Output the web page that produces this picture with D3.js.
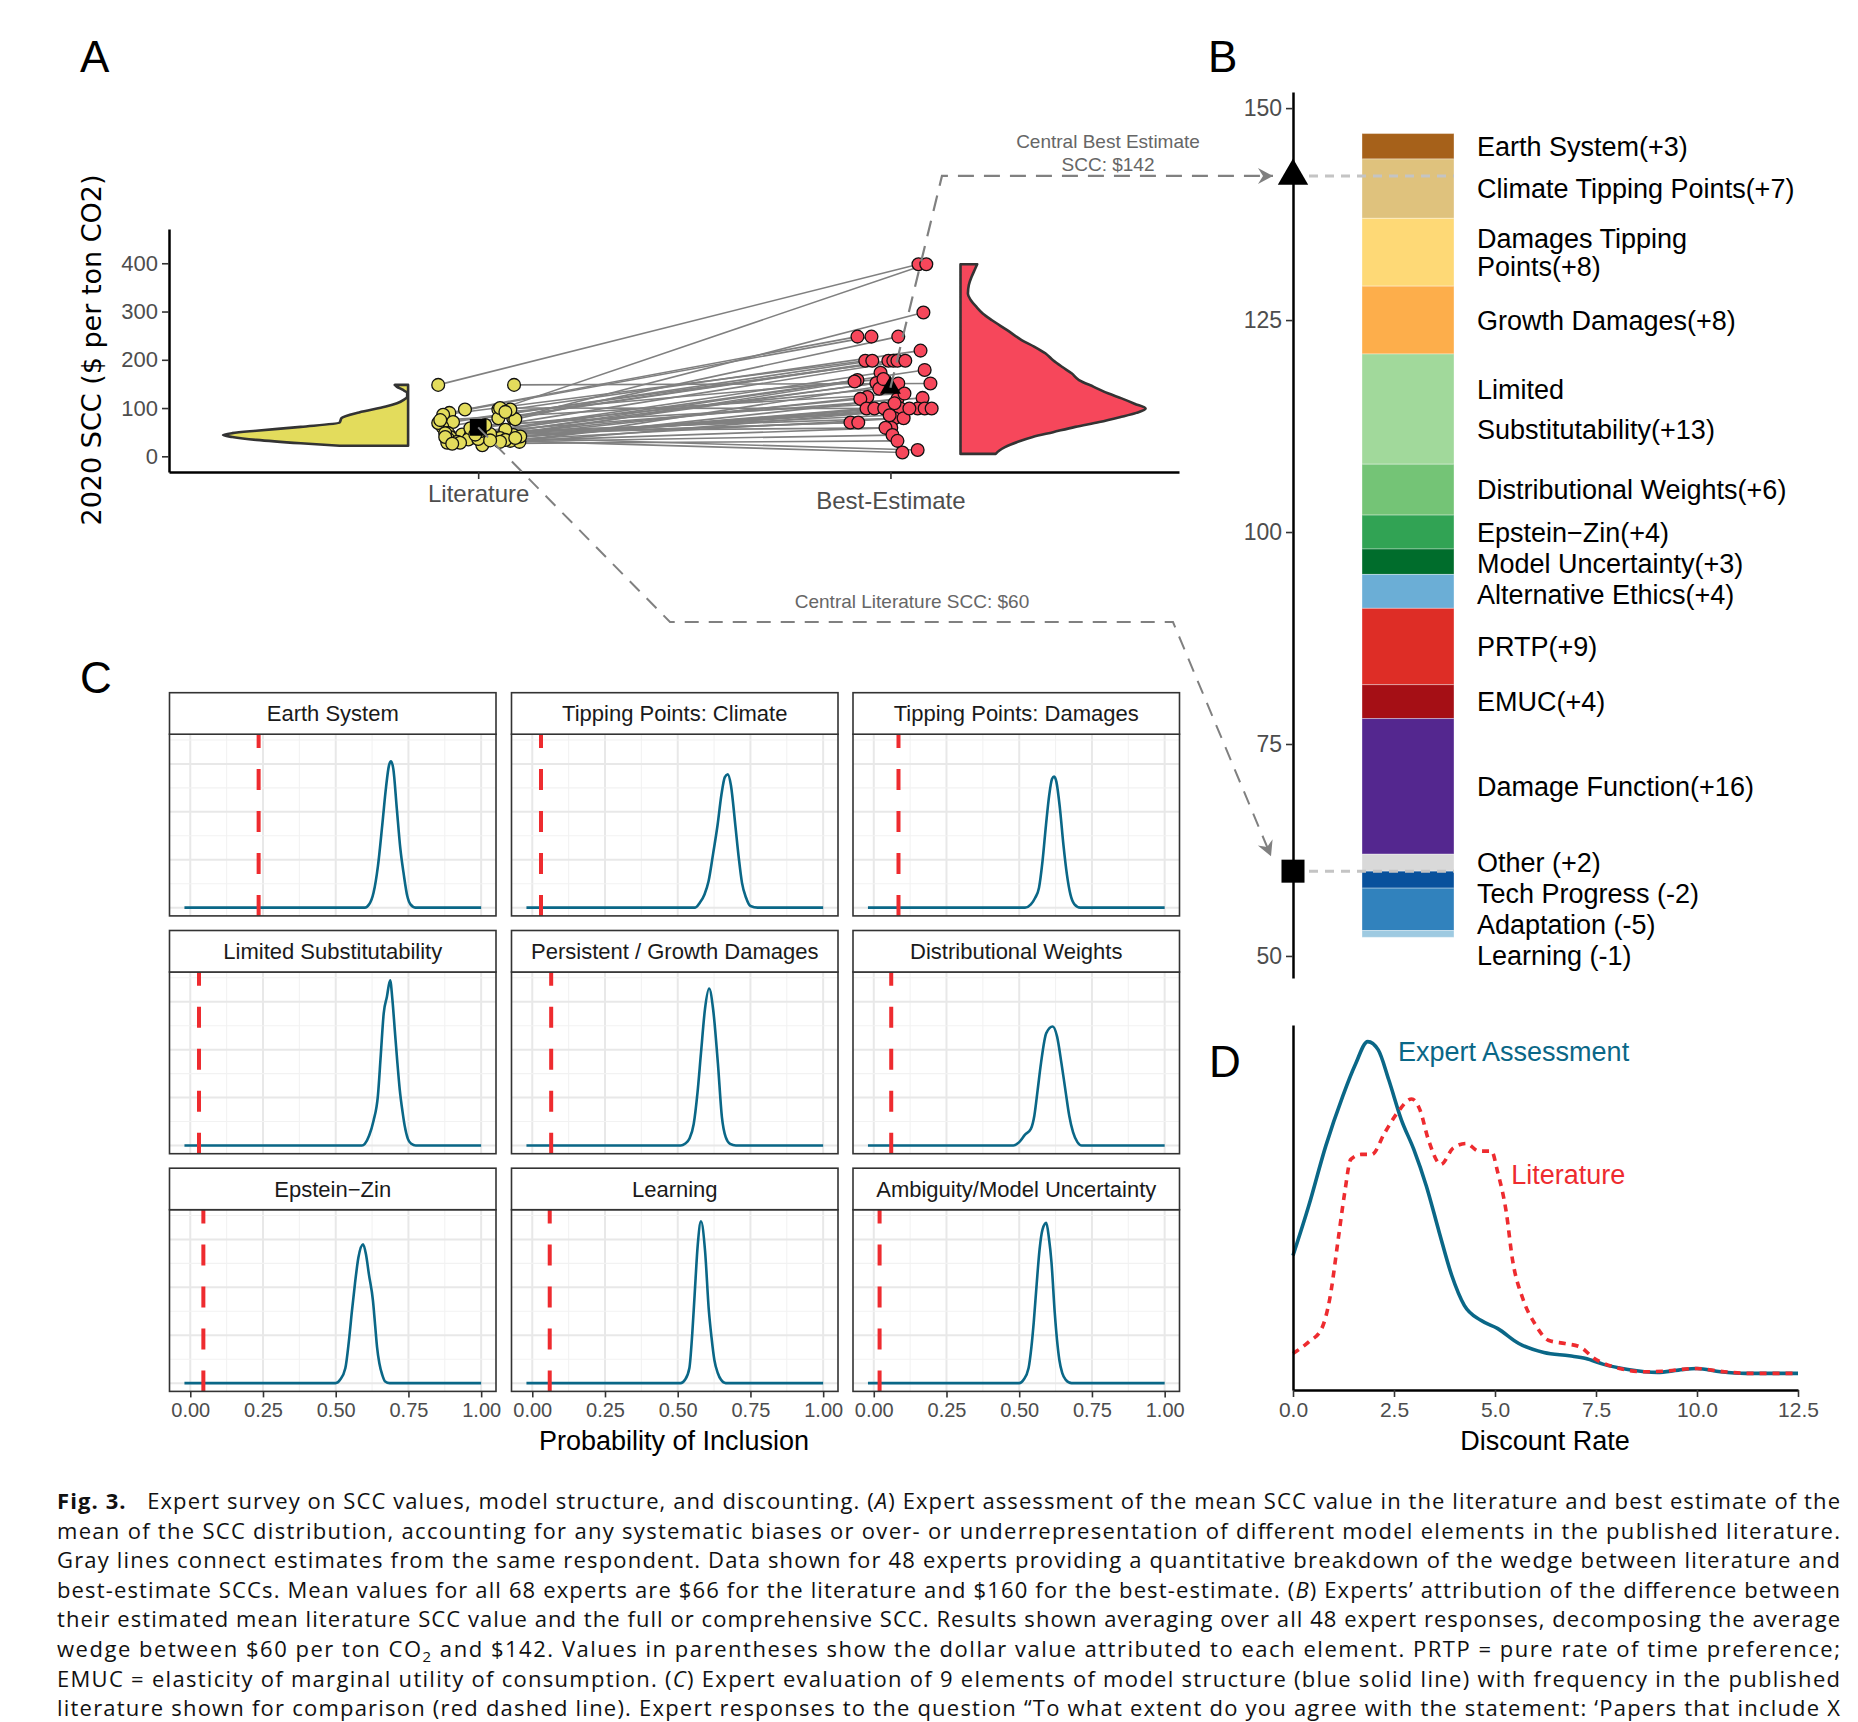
<!DOCTYPE html>
<html>
<head>
<meta charset="utf-8">
<script src="https://cdn.jsdelivr.net/npm/d3@7"></script>
<style>
body { margin: 0; background: #fff; }
svg { display: block; }
</style>
</head>
<body>
<div id="chart"></div>
<script>
// ---- panel A: literature vs best-estimate SCC ----
var sccCategories = ["Literature", "Best-Estimate"];
var sccTicks = [0, 100, 200, 300, 400];
var litSCC = [148,148,97,79,97,90,77,97,86,71,79,61,69,48,50,45,40,38,42,35,30,44,36,32,55,38,34,28,30,41,23,36,48,34,40,46,52,28,30,26,33,38,58,65,75,100,92,45];
var bestSCC = [398,151,398,298,248,248,248,219,198,198,198,198,198,198,179,173,158,155,152,152,151,123,119,119,121,99,99,99,99,99,99,99,79,79,70,70,59,59,44,32,8,13,140,110,130,99,160,85];
var litJitter = [-0.097,0.087,0.049,0.085,-0.032,-0.07,0.09,0.078,-0.085,-0.061,0.049,-0.087,-0.097,-0.073,0.066,-0.039,-0.068,0.041,-0.019,-0.024,0.1,0.085,-0.073,0.078,0.066,0.053,0.012,-0.075,-0.051,0.102,0.01,0,-0.08,0.066,-0.08,0.029,0.005,-0.044,0.053,-0.063,0.029,0.09,-0.019,0.017,-0.092,0.053,0.066,-0.007];
var bestJitter = [0.068,0.097,0.087,0.08,-0.08,-0.046,0.019,0.073,-0.061,-0.044,-0.005,0.007,0.017,0.036,0.083,-0.024,-0.08,-0.087,-0.029,-0.034,0.019,-0.056,-0.073,0.017,0.078,-0.058,-0.039,-0.015,0.024,0.066,0.083,0.1,0.01,0.032,-0.097,-0.078,0.002,-0.012,0.005,0.017,0.029,0.066,-0.027,0.01,0.034,0.046,-0.017,-0.002];
var litMean = 60, bestMean = 142;
// violin outlines: [SCC value, relative width]
var litViolin = [[22,0.37],[27,0.58],[34,0.82],[40,0.95],[44,1.0],[48,0.95],[53,0.82],[61,0.58],[70,0.37],[79,0.36],[91,0.265],[103,0.12],[110,0.06],[117,0.024],[124,0.005],[131,0.005],[138,0.03],[144,0.06],[148,0.072]];
var bestViolin = [[5,0.19],[12,0.21],[19,0.24],[30,0.31],[40,0.39],[50,0.5],[61,0.62],[71,0.75],[81,0.86],[90,0.95],[99,1.0],[109,0.94],[120,0.87],[130,0.8],[144,0.72],[158,0.64],[172,0.6],[185,0.55],[199,0.5],[213,0.46],[227,0.4],[241,0.33],[262,0.25],[282,0.17],[296,0.12],[310,0.085],[324,0.055],[337,0.04],[355,0.045],[372,0.06],[385,0.075],[398,0.09]];

// ---- panel B: wedge decomposition ----
var wedgeNames = ["Earth System","Climate Tipping Points","Damages Tipping Points","Growth Damages","Limited Substitutability","Distributional Weights","Epstein-Zin","Model Uncertainty","Alternative Ethics","PRTP","EMUC","Damage Function","Other","Tech Progress","Adaptation","Learning"];
var wedgeValues = [3,7,8,8,13,6,4,3,4,9,4,16,2,-2,-5,-0.8];
var wedgeLabels = ["Earth System(+3)","Climate Tipping Points(+7)","Damages Tipping|Points(+8)","Growth Damages(+8)","Limited||Substitutability(+13)","Distributional Weights(+6)","Epstein\u2212Zin(+4)","Model Uncertainty(+3)","Alternative Ethics(+4)","PRTP(+9)","EMUC(+4)","Damage Function(+16)","Other (+2)","Tech Progress (-2)","Adaptation (-5)","Learning (-1)"];
var wedgeColors = ["#a6611a","#dfc27d","#fed976","#fdae4b","#a1d99b","#74c476","#31a354","#006d2c","#6baed6","#de2d26","#a50f15","#54278f","#d9d9d9","#08519c","#3182bd","#9ecae1"];
var bTicks = [50, 75, 100, 125, 150];

// ---- panel C: probability of inclusion ----
var facetNames = ["Earth System","Tipping Points: Climate","Tipping Points: Damages","Limited Substitutability","Persistent / Growth Damages","Distributional Weights","Epstein\u2212Zin","Learning","Ambiguity/Model Uncertainty"];
var facetLitFreq = [0.235, 0.03, 0.085, 0.03, 0.065, 0.06, 0.045, 0.06, 0.02];
var facetDensity = [
  [[-0.02,0],[0.6,0],[0.615,0.02],[0.63,0.09],[0.645,0.25],[0.66,0.5],[0.673,0.73],[0.683,0.86],[0.69,0.886],[0.698,0.84],[0.71,0.6],[0.722,0.36],[0.734,0.2],[0.746,0.07],[0.757,0.02],[0.775,0],[1.0,0]],
  [[-0.02,0],[0.56,0],[0.576,0.03],[0.592,0.08],[0.606,0.16],[0.622,0.33],[0.637,0.5],[0.65,0.68],[0.662,0.79],[0.672,0.807],[0.683,0.74],[0.698,0.5],[0.71,0.3],[0.721,0.15],[0.735,0.06],[0.75,0.01],[0.775,0],[1.0,0]],
  [[-0.02,0],[0.52,0],[0.54,0.02],[0.555,0.06],[0.568,0.12],[0.58,0.28],[0.592,0.5],[0.603,0.68],[0.613,0.78],[0.62,0.793],[0.628,0.76],[0.64,0.6],[0.652,0.38],[0.664,0.2],[0.676,0.08],[0.69,0.02],[0.71,0],[1.0,0]],
  [[-0.02,0],[0.59,0],[0.6,0.01],[0.615,0.06],[0.63,0.15],[0.645,0.3],[0.655,0.55],[0.665,0.8],[0.676,0.9],[0.687,1.0],[0.695,0.88],[0.703,0.7],[0.712,0.5],[0.72,0.34],[0.73,0.2],[0.737,0.12],[0.748,0.04],[0.76,0.01],[0.775,0],[1.0,0]],
  [[-0.02,0],[0.51,0],[0.525,0.01],[0.54,0.04],[0.555,0.13],[0.568,0.32],[0.58,0.56],[0.594,0.83],[0.608,0.95],[0.622,0.82],[0.638,0.5],[0.652,0.17],[0.665,0.05],[0.68,0.01],[0.7,0],[1.0,0]],
  [[-0.02,0],[0.48,0],[0.5,0.02],[0.52,0.065],[0.54,0.1],[0.552,0.18],[0.563,0.33],[0.575,0.5],[0.593,0.68],[0.615,0.72],[0.63,0.66],[0.645,0.5],[0.66,0.32],[0.672,0.18],[0.685,0.08],[0.7,0.02],[0.715,0],[1.0,0]],
  [[-0.02,0],[0.5,0],[0.515,0.02],[0.533,0.09],[0.545,0.25],[0.556,0.44],[0.566,0.6],[0.578,0.76],[0.594,0.84],[0.604,0.78],[0.614,0.66],[0.628,0.5],[0.636,0.34],[0.642,0.22],[0.65,0.12],[0.66,0.05],[0.67,0.01],[0.685,0],[1.0,0]],
  [[-0.02,0],[0.51,0],[0.525,0.02],[0.54,0.09],[0.55,0.3],[0.558,0.53],[0.569,0.84],[0.58,0.98],[0.594,0.8],[0.607,0.44],[0.616,0.28],[0.626,0.14],[0.638,0.06],[0.649,0.02],[0.665,0],[1.0,0]],
  [[-0.02,0],[0.5,0],[0.515,0.02],[0.532,0.09],[0.542,0.22],[0.55,0.37],[0.56,0.6],[0.57,0.81],[0.58,0.93],[0.593,0.97],[0.602,0.88],[0.611,0.73],[0.622,0.43],[0.63,0.26],[0.638,0.14],[0.648,0.06],[0.66,0.02],[0.68,0],[1.0,0]]
];
var probTicks = [0, 0.25, 0.5, 0.75, 1];

// ---- panel D: discount rate densities ----
var discountTicks = [0, 2.5, 5, 7.5, 10, 12.5];
var expertDensity = [[0,0.355],[0.39,0.505],[0.81,0.685],[1.23,0.835],[1.54,0.93],[1.85,1.0],[2.11,0.975],[2.37,0.885],[2.68,0.765],[2.99,0.675],[3.3,0.565],[3.62,0.425],[3.93,0.295],[4.24,0.205],[4.65,0.16],[5.07,0.135],[5.59,0.09],[6.21,0.063],[6.84,0.053],[7.25,0.045],[7.67,0.028],[8.29,0.012],[9.02,0.003],[9.54,0.01],[10.0,0.015],[10.58,0.005],[11.2,0],[12.5,0]];
var literatureDensity = [[0,0.06],[0.39,0.095],[0.71,0.135],[0.91,0.225],[1.12,0.405],[1.28,0.545],[1.43,0.645],[1.69,0.66],[1.95,0.66],[2.27,0.725],[2.58,0.785],[2.94,0.827],[3.14,0.795],[3.35,0.705],[3.66,0.63],[3.97,0.68],[4.29,0.693],[4.6,0.67],[4.91,0.67],[5.07,0.605],[5.28,0.485],[5.43,0.345],[5.69,0.225],[6.01,0.145],[6.32,0.1],[6.73,0.09],[7.1,0.08],[7.46,0.045],[8.08,0.015],[8.71,0.005],[9.22,0.007],[9.95,0.015],[10.68,0.005],[11.3,0],[12.5,0]];

var captionLines = [
  "**Fig. 3.**   Expert survey on SCC values, model structure, and discounting. (*A*) Expert assessment of the mean SCC value in the literature and best estimate of the",
  "mean of the SCC distribution, accounting for any systematic biases or over- or underrepresentation of different model elements in the published literature.",
  "Gray lines connect estimates from the same respondent. Data shown for 48 experts providing a quantitative breakdown of the wedge between literature and",
  "best-estimate SCCs. Mean values for all 68 experts are $66 for the literature and $160 for the best-estimate. (*B*) Experts\u2019 attribution of the difference between",
  "their estimated mean literature SCC value and the full or comprehensive SCC. Results shown averaging over all 48 expert responses, decomposing the average",
  "wedge between $60 per ton CO_2 and $142. Values in parentheses show the dollar value attributed to each element. PRTP = pure rate of time preference;",
  "EMUC = elasticity of marginal utility of consumption. (*C*) Expert evaluation of 9 elements of model structure (blue solid line) with frequency in the published",
  "literature shown for comparison (red dashed line). Expert responses to the question \u201cTo what extent do you agree with the statement: \u2018Papers that include X"
];

(function () {
	var FONT = "'Liberation Sans', Arial, sans-serif";
	var BLUE = "#0a6787", RED = "#ee2b2f", GREY = "#808080";

	var svg = d3.select("#chart").append("svg")
		.attr("width", 1858)
		.attr("height", 1722)
		.style("font-family", FONT);

	var defs = svg.append("defs");
	defs.append("marker")
		.attr("id", "arr")
		.attr("markerUnits", "userSpaceOnUse")
		.attr("viewBox", "-16 -9 18 18")
		.attr("markerWidth", 18).attr("markerHeight", 18)
		.attr("refX", 0).attr("refY", 0)
		.attr("orient", "auto")
		.append("path")
		.attr("d", "M0,0L-15,-8L-10,0L-15,8Z")
		.attr("fill", GREY);

	function styleAxis(g, size) {
		g.select(".domain").attr("stroke", "#000").attr("stroke-width", 2.5);
		g.selectAll(".tick line").attr("stroke", "#333").attr("stroke-width", 1.6);
		g.selectAll(".tick text").attr("fill", "#4d4d4d").style("font-size", size + "px").style("font-family", FONT);
	}

	function panelLetter(t, x, y) {
		svg.append("text").attr("x", x).attr("y", y).text(t)
			.style("font-size", "44px").attr("fill", "#000");
	}
	panelLetter("A", 80, 72);
	panelLetter("B", 1208, 72);
	panelLetter("C", 80, 693);
	panelLetter("D", 1209, 1077);

	// ================= A =================
	var xA = d3.scaleLinear().domain([0.25, 2.70]).range([169, 1179]);
	var yA = d3.scaleLinear().domain([-32.5, 471]).range([472, 229]);
	var violinW = 0.449;
	var gA = svg.append("g");

	// connecting lines
	gA.append("g").selectAll("line")
		.data(litSCC)
		.enter().append("line")
		.attr("x1", function (d, i) { return xA(1 + litJitter[i]); })
		.attr("y1", function (d) { return yA(d); })
		.attr("x2", function (d, i) { return xA(2 + bestJitter[i]); })
		.attr("y2", function (d, i) { return yA(bestSCC[i]); })
		.attr("stroke", GREY)
		.attr("stroke-width", 1.6);

	var litArea = d3.area().curve(d3.curveMonotoneY)
		.y(function (d) { return yA(d[0]); })
		.x0(function () { return xA(0.83); })
		.x1(function (d) { return xA(0.83 - d[1] * violinW); });
	var bestArea = d3.area().curve(d3.curveMonotoneY)
		.y(function (d) { return yA(d[0]); })
		.x0(function () { return xA(2.17); })
		.x1(function (d) { return xA(2.17 + d[1] * violinW); });

	gA.append("path").attr("d", litArea(litViolin))
		.attr("fill", "#e3dc5c").attr("stroke", "#333").attr("stroke-width", 2.6).attr("stroke-linejoin", "round");
	gA.append("path").attr("d", bestArea(bestViolin))
		.attr("fill", "#f6475b").attr("stroke", "#333").attr("stroke-width", 2.6).attr("stroke-linejoin", "round");

	// annotation arrows (drawn under the points)
	var bAxisX = 1293;
	var yB = d3.scaleLinear().domain([47.4, 151.9]).range([978, 92]);
	var dash = d3.line();
	svg.append("path")
		.attr("d", dash([[xA(2), yA(bestMean)], [xA(2.125), yB(bestMean)], [bAxisX - 20, yB(bestMean)]]))
		.attr("fill", "none").attr("stroke", GREY).attr("stroke-width", 2.2)
		.attr("stroke-dasharray", "16,10").attr("marker-end", "url(#arr)");
	svg.append("path")
		.attr("d", dash([[xA(1), yA(litMean)], [670, 622], [1173, 622], [bAxisX - 22, yB(litMean) - 15]]))
		.attr("fill", "none").attr("stroke", GREY).attr("stroke-width", 2)
		.attr("stroke-dasharray", "14,10").attr("marker-end", "url(#arr)");

	svg.append("text").attr("x", 1108).attr("y", 148).attr("text-anchor", "middle")
		.attr("fill", "#666").style("font-size", "19px").text("Central Best Estimate");
	svg.append("text").attr("x", 1108).attr("y", 171).attr("text-anchor", "middle")
		.attr("fill", "#666").style("font-size", "19px").text("SCC: $" + bestMean);
	svg.append("text").attr("x", 912).attr("y", 608).attr("text-anchor", "middle")
		.attr("fill", "#666").style("font-size", "19px").text("Central Literature SCC: $" + litMean);

	gA.append("g").selectAll("circle")
		.data(litSCC)
		.enter().append("circle")
		.attr("cx", function (d, i) { return xA(1 + litJitter[i]); })
		.attr("cy", function (d) { return yA(d); })
		.attr("r", 6.4)
		.attr("fill", "#e3dc5c").attr("stroke", "#111").attr("stroke-width", 1.3);
	gA.append("g").selectAll("circle")
		.data(bestSCC)
		.enter().append("circle")
		.attr("cx", function (d, i) { return xA(2 + bestJitter[i]); })
		.attr("cy", function (d) { return yA(d); })
		.attr("r", 6.4)
		.attr("fill", "#f6475b").attr("stroke", "#111").attr("stroke-width", 1.3);

	gA.append("path")
		.attr("d", d3.symbol(d3.symbolSquare, 280)())
		.attr("transform", "translate(" + xA(1) + "," + yA(litMean) + ")")
		.attr("fill", "#000");
	gA.append("path")
		.attr("d", d3.symbol(d3.symbolTriangle, 190)())
		.attr("transform", "translate(" + xA(2) + "," + yA(bestMean) + ")")
		.attr("fill", "#000");

	var axYA = gA.append("g").attr("transform", "translate(169,0)")
		.call(d3.axisLeft(yA).tickValues(sccTicks).tickSize(7).tickSizeOuter(0).tickPadding(4));
	styleAxis(axYA, 22);
	var axXA = gA.append("g").attr("transform", "translate(0,472)")
		.call(d3.axisBottom(xA).tickValues([1, 2]).tickSize(7).tickSizeOuter(0).tickPadding(6)
			.tickFormat(function (d) { return sccCategories[d - 1]; }));
	styleAxis(axXA, 24);
	axXA.selectAll(".tick text").attr("dy", function (d) { return d === 2 ? "1.0em" : "0.71em"; });

	svg.append("text")
		.attr("transform", "translate(101,350) rotate(-90)")
		.attr("text-anchor", "middle")
		.style("font-family", "'DejaVu Sans', sans-serif")
		.style("font-size", "27px")
		.attr("fill", "#000")
		.text("2020 SCC ($ per ton CO2)");

	// ================= B =================
	var gB = svg.append("g");
	var barX = 1362, barW = 92;
	var segs = [];
	var base = litMean;
	for (var i = 12; i >= 0; i--) {
		segs[i] = { y0: base, y1: base + wedgeValues[i] };
		base += wedgeValues[i];
	}
	base = litMean;
	for (i = 13; i < wedgeValues.length; i++) {
		segs[i] = { y0: base, y1: base + wedgeValues[i] };
		base += wedgeValues[i];
	}

	gB.selectAll("rect")
		.data(segs)
		.enter().append("rect")
		.attr("x", barX)
		.attr("width", barW)
		.attr("y", function (d) { return yB(Math.max(d.y0, d.y1)); })
		.attr("height", function (d) { return Math.abs(yB(d.y0) - yB(d.y1)); })
		.attr("fill", function (d, i) { return wedgeColors[i]; })
		.attr("stroke", "rgba(255,255,255,0.35)")
		.attr("stroke-width", 1);

	// labels: segment centres, pushed down to avoid overlap
	var lineH = 28, prev = -1e9, prevHalf = 0;
	var labelPos = segs.map(function (s, i) {
		var lines = wedgeLabels[i].split("|");
		var step = lines.length === 3 ? 20 : lineH;
		var half = (lines.length - 1) * step / 2;
		var c = yB((s.y0 + s.y1) / 2);
		var p = Math.max(c, prev + prevHalf + half + 31);
		prev = p; prevHalf = half;
		return { lines: lines, y: p, step: step };
	});
	labelPos.forEach(function (lp) {
		lp.lines.forEach(function (t, j) {
			if (!t) return;
			gB.append("text")
				.attr("x", 1477)
				.attr("y", lp.y + (j - (lp.lines.length - 1) / 2) * lp.step)
				.attr("dy", "0.36em")
				.style("font-size", "27px")
				.attr("fill", "#000")
				.text(t);
		});
	});

	gB.append("line")
		.attr("x1", bAxisX).attr("x2", barX + barW)
		.attr("y1", yB(bestMean)).attr("y2", yB(bestMean))
		.attr("stroke", "#c4c4c4").attr("stroke-width", 3).attr("stroke-dasharray", "9,7");
	gB.append("line")
		.attr("x1", bAxisX).attr("x2", barX + barW)
		.attr("y1", yB(litMean)).attr("y2", yB(litMean))
		.attr("stroke", "#c4c4c4").attr("stroke-width", 3).attr("stroke-dasharray", "9,7");

	var axB = gB.append("g").attr("transform", "translate(" + bAxisX + ",0)")
		.call(d3.axisLeft(yB).tickValues(bTicks).tickSize(7).tickSizeOuter(0).tickPadding(4));
	styleAxis(axB, 23);

	gB.append("path")
		.attr("d", d3.symbol(d3.symbolTriangle, 400)())
		.attr("transform", "translate(" + bAxisX + "," + yB(bestMean) + ")")
		.attr("fill", "#000");
	gB.append("path")
		.attr("d", d3.symbol(d3.symbolSquare, 530)())
		.attr("transform", "translate(" + bAxisX + "," + yB(litMean) + ")")
		.attr("fill", "#000");

	// ================= C =================
	var colX = [169.5, 511.5, 853], rowY = [692.7, 930.5, 1168.2];
	var panelW = 326.5, stripH = 41.5, panelH = 181.7;
	var xC = d3.scaleLinear().domain([-0.0714, 1.051]).range([0, panelW]);
	var yC = d3.scaleLinear().domain([-0.05, 1.05]).range([panelH, 0]);
	var densLine = d3.line().curve(d3.curveMonotoneX)
		.x(function (d) { return xC(d[0]); })
		.y(function (d) { return yC(d[1]); });
	var vGrid = [0, 0.125, 0.25, 0.375, 0.5, 0.625, 0.75, 0.875, 1];
	var hGrid = [0, 0.145, 0.29, 0.435, 0.58, 0.725, 0.87, 1.015];

	facetNames.forEach(function (name, k) {
		var col = k % 3, row = Math.floor(k / 3);
		var g = svg.append("g").attr("transform", "translate(" + colX[col] + "," + (rowY[row] + stripH) + ")");
		g.append("rect").attr("width", panelW).attr("height", panelH).attr("fill", "#fff");
		g.selectAll(".vg").data(vGrid).enter().append("line")
			.attr("x1", function (d) { return xC(d); }).attr("x2", function (d) { return xC(d); })
			.attr("y1", 0).attr("y2", panelH)
			.attr("stroke", function (d, i) { return i % 2 ? "#f2f2f2" : "#e8e8e8"; })
			.attr("stroke-width", function (d, i) { return i % 2 ? 1.1 : 2; });
		g.selectAll(".hg").data(hGrid).enter().append("line")
			.attr("x1", 0).attr("x2", panelW)
			.attr("y1", function (d) { return yC(d); }).attr("y2", function (d) { return yC(d); })
			.attr("stroke", function (d, i) { return i % 2 ? "#f2f2f2" : "#e8e8e8"; })
			.attr("stroke-width", function (d, i) { return i % 2 ? 1.1 : 2; });
		g.append("path").attr("d", densLine(facetDensity[k]))
			.attr("fill", "none").attr("stroke", BLUE).attr("stroke-width", 2.6).attr("stroke-linejoin", "round");
		g.append("line")
			.attr("x1", xC(facetLitFreq[k])).attr("x2", xC(facetLitFreq[k]))
			.attr("y1", panelH).attr("y2", 0)
			.attr("stroke", RED).attr("stroke-width", 4).attr("stroke-dasharray", "21,21");
		g.append("rect").attr("width", panelW).attr("height", panelH)
			.attr("fill", "none").attr("stroke", "#333").attr("stroke-width", 1.6);

		var s = svg.append("g").attr("transform", "translate(" + colX[col] + "," + rowY[row] + ")");
		s.append("rect").attr("width", panelW).attr("height", stripH)
			.attr("fill", "#fff").attr("stroke", "#333").attr("stroke-width", 1.6);
		s.append("text").attr("x", panelW / 2).attr("y", stripH / 2).attr("dy", "0.36em")
			.attr("text-anchor", "middle").style("font-size", "22px").attr("fill", "#1a1a1a").text(name);

		if (row === 2) {
			var ax = svg.append("g").attr("transform", "translate(" + colX[col] + "," + (rowY[row] + stripH + panelH) + ")")
				.call(d3.axisBottom(xC).tickValues(probTicks).tickSize(6).tickSizeOuter(0).tickPadding(5)
					.tickFormat(d3.format(".2f")));
			ax.select(".domain").remove();
			ax.selectAll(".tick line").attr("stroke", "#333").attr("stroke-width", 1.6);
			ax.selectAll(".tick text").attr("fill", "#4d4d4d").style("font-size", "20px");
		}
	});
	svg.append("text").attr("x", 674).attr("y", 1450).attr("text-anchor", "middle")
		.style("font-size", "27px").attr("fill", "#000").text("Probability of Inclusion");

	// ================= D =================
	var xD = d3.scaleLinear().domain([0, 12.5]).range([1293, 1798]);
	var yD = d3.scaleLinear().domain([-0.05, 1.05]).range([1390, 1025]);
	var dLine = d3.line().curve(d3.curveMonotoneX)
		.x(function (d) { return xD(d[0]); })
		.y(function (d) { return yD(d[1]); });
	var gD = svg.append("g");
	gD.append("path").attr("d", dLine(expertDensity))
		.attr("fill", "none").attr("stroke", BLUE).attr("stroke-width", 3.6).attr("stroke-linejoin", "round");
	gD.append("path").attr("d", dLine(literatureDensity))
		.attr("fill", "none").attr("stroke", RED).attr("stroke-width", 3.6).attr("stroke-dasharray", "7,6");
	gD.append("text").attr("x", xD(2.6)).attr("y", yD(0.97)).attr("dy", "0.36em")
		.style("font-size", "27px").attr("fill", BLUE).text("Expert Assessment");
	gD.append("text").attr("x", xD(5.4)).attr("y", yD(0.6)).attr("dy", "0.36em")
		.style("font-size", "27px").attr("fill", RED).text("Literature");

	var axYD = gD.append("g").attr("transform", "translate(1293,0)")
		.call(d3.axisLeft(yD).tickValues([]).tickSizeOuter(0));
	styleAxis(axYD, 20);
	var axXD = gD.append("g").attr("transform", "translate(0,1390)")
		.call(d3.axisBottom(xD).tickValues(discountTicks).tickSize(7).tickSizeOuter(0).tickPadding(5)
			.tickFormat(d3.format(".1f")));
	styleAxis(axXD, 21);
	gD.append("text").attr("x", 1545).attr("y", 1450).attr("text-anchor", "middle")
		.style("font-size", "27px").attr("fill", "#000").text("Discount Rate");

	// ================= caption =================
	var cap = svg.append("g")
		.style("font-family", "'Open Sans', 'Noto Sans', sans-serif")
		.style("font-size", "22px")
		.attr("fill", "#111");
	captionLines.forEach(function (line, i) {
		var t = cap.append("text")
			.attr("x", 57)
			.attr("y", 1509 + i * 29.6)
			.attr("textLength", 1783)
			.attr("lengthAdjust", "spacing")
			.style("white-space", "pre");
		var lift = false;
		line.split(/(\*\*.+?\*\*|\*.+?\*|_2)/).forEach(function (tok) {
			if (!tok) return;
			var ts = t.append("tspan");
			if (lift) { ts.attr("dy", -5); lift = false; }
			if (tok.indexOf("**") === 0) {
				ts.style("font-weight", "bold").text(tok.slice(2, -2));
			} else if (tok.charAt(0) === "*") {
				ts.style("font-style", "italic").text(tok.slice(1, -1));
			} else if (tok === "_2") {
				ts.attr("dy", 5).style("font-size", "15px").text("2");
				lift = true;
			} else {
				ts.text(tok);
			}
		});
	});
})();
</script>
</body>
</html>
